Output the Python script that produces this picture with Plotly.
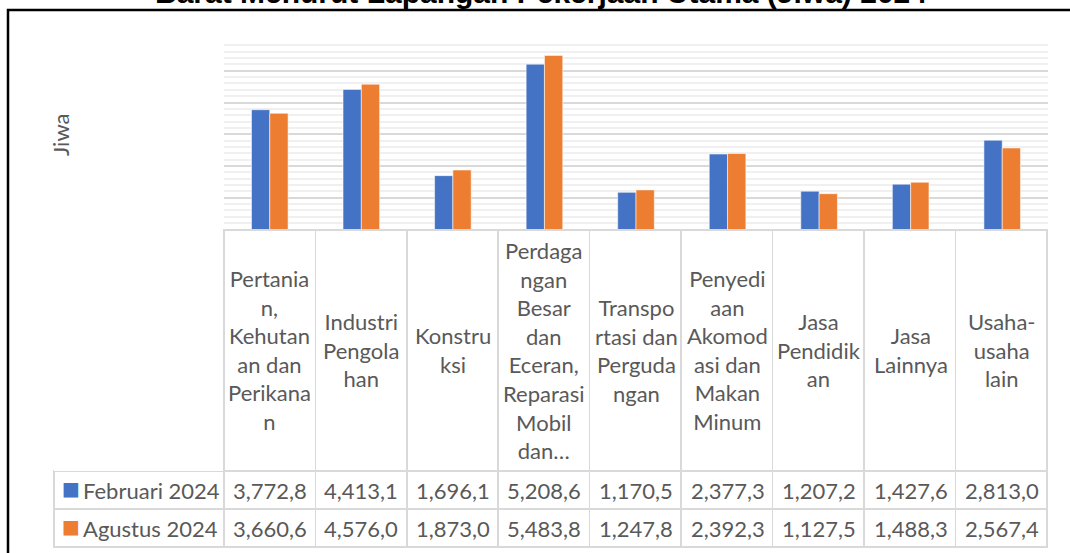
import plotly.graph_objects as go

# ---------------- data ----------------
categories = [
    "Pertanian, Kehutanan dan Perikanan",
    "Industri Pengolahan",
    "Konstruksi",
    "Perdagangan Besar dan Eceran, Reparasi Mobil dan Sepeda Motor",
    "Transportasi dan Pergudangan",
    "Penyediaan Akomodasi dan Makan Minum",
    "Jasa Pendidikan",
    "Jasa Lainnya",
    "Usaha-usaha lain",
]
header_labels = [
    "Pertania<br>n,<br>Kehutan<br>an dan<br>Perikana<br>n",
    "Industri<br>Pengola<br>han",
    "Konstru<br>ksi",
    "Perdaga<br>ngan<br>Besar<br>dan<br>Eceran,<br>Reparasi<br>Mobil<br>dan…",
    "Transpo<br>rtasi dan<br>Perguda<br>ngan",
    "Penyedi<br>aan<br>Akomod<br>asi dan<br>Makan<br>Minum",
    "Jasa<br>Pendidik<br>an",
    "Jasa<br>Lainnya",
    "Usaha-<br>usaha<br>lain",
]
februari_2024 = [3772.8, 4413.1, 1696.1, 5208.6, 1170.5, 2377.3, 1207.2, 1427.6, 2813.0]
agustus_2024 = [3660.6, 4576.0, 1873.0, 5483.8, 1247.8, 2392.3, 1127.5, 1488.3, 2567.4]
series_names = ["Februari 2024", "Agustus 2024"]
series_colors = ["#4472C4", "#ED7D31"]
title_text = "Barat Menurut Lapangan Pekerjaan Utama (Jiwa) 2024"
y_title = "Jiwa"

# ---------------- geometry helpers ----------------
W, H = 1070, 553
def px_x(p):
    return p / W
def px_y(p):
    return 1 - p / H

FONT = "Lato, 'Open Sans', sans-serif"
TXT = "#595959"
GRID = "#D9D9D9"

def fmt(v):
    return f"{v:,.1f}".replace(".", ",")

series_values = [februari_2024, agustus_2024]

fig = go.Figure()

for name, vals, col in zip(series_names, series_values, series_colors):
    fig.add_trace(go.Bar(
        x=categories, y=vals, name=name,
        marker=dict(color=col, line=dict(color="rgba(255,255,255,0.55)", width=1)),
        xaxis="x", yaxis="y", showlegend=False,
        hovertemplate="%{x}<br>" + name + ": %{y:,.1f}<extra></extra>",
    ))

# data-table grid below the chart
n_cat = len(categories)
col_w = (1048 - 224) / n_cat
fig.add_trace(go.Table(
    domain=dict(x=[px_x(54), px_x(1048)], y=[0, px_y(230)]),
    columnwidth=[170] + [col_w] * n_cat,
    header=dict(
        values=[""] * (n_cat + 1),
        height=241,
        fill=dict(color="white"),
        line=dict(color=["rgba(0,0,0,0)"] + [GRID] * n_cat, width=1.5),
    ),
    cells=dict(
        values=[[""] * len(series_names)] * (n_cat + 1),
        height=38,
        fill=dict(color="white"),
        line=dict(color=GRID, width=1.5),
    ),
    hoverinfo="skip",
))

annotations = []
# category header texts
for cat, lab in zip(categories, header_labels):
    annotations.append(dict(
        x=cat, xref="x", y=px_y(350), yref="paper",
        text=lab, showarrow=False, xanchor="center", yanchor="middle",
        align="center", font=dict(family=FONT, size=22, color=TXT),
    ))
# table rows: legend key + values
row_centers = [490.5, 528.5]
for name, col, vals, yc in zip(series_names, series_colors, series_values, row_centers):
    annotations.append(dict(
        x=px_x(60), xref="paper", y=px_y(yc - 2.5), yref="paper",
        text="■", showarrow=False, xanchor="left", yanchor="middle",
        font=dict(family="DejaVu Sans", size=19, color=col),
    ))
    annotations.append(dict(
        x=px_x(81), xref="paper", y=px_y(yc), yref="paper",
        text=name,
        showarrow=False, xanchor="left", yanchor="middle",
        font=dict(family=FONT, size=22, color=TXT),
    ))
    for cat, v in zip(categories, vals):
        annotations.append(dict(
            x=cat, xref="x", y=px_y(yc), yref="paper",
            text=fmt(v), showarrow=False, xanchor="center", yanchor="middle",
            font=dict(family=FONT, size=22, color=TXT),
        ))
annotations.append(dict(
    x=px_x(60), xref="paper", y=px_y(135), yref="paper",
    text=y_title, textangle=-90, showarrow=False,
    xanchor="center", yanchor="middle",
    font=dict(family=FONT, size=22, color=TXT),
))
annotations.append(dict(
    x=px_x(541), xref="paper", y=px_y(-7), yref="paper",
    text="<b>" + title_text + "</b>", showarrow=False,
    xanchor="center", yanchor="middle",
    font=dict(family="Liberation Sans, Arial, sans-serif", size=30, color="black"),
))

fig.update_layout(
    width=W, height=H,
    margin=dict(l=0, r=0, t=0, b=0),
    paper_bgcolor="white", plot_bgcolor="white",
    barmode="group", bargap=0.6, bargroupgap=0,
    xaxis=dict(domain=[px_x(224), px_x(1048)], showticklabels=False, showgrid=False,
               zeroline=False, showline=False, ticks=""),
    yaxis=dict(domain=[px_y(229.5), px_y(39)], range=[0, 6000], dtick=1000,
               showticklabels=False, showgrid=True, gridcolor=GRID, gridwidth=1.5,
               zeroline=False, showline=False, ticks="",
               minor=dict(dtick=200, showgrid=True, gridcolor="#F0F0F0", gridwidth=1.5)),
    annotations=annotations,
    shapes=[dict(type="rect", xref="paper", yref="paper",
                 x0=px_x(8), x1=1.02, y0=-0.02, y1=px_y(10),
                 line=dict(color="black", width=2.5), layer="above")],
    showlegend=False,
)

fig.write_html("out.html", config={"displayModeBar": False},
               post_script="document.body.style.margin='0';document.body.style.overflow='hidden';")
